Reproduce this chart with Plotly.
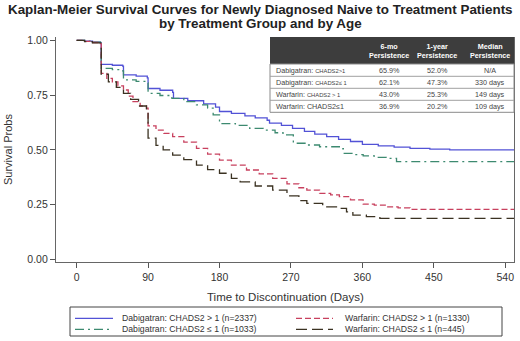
import plotly.graph_objects as go

# ---------------- data ----------------
days_dab_hi = [0, 10, 20, 30, 31, 45, 58, 59, 75, 89, 90, 105, 121, 122, 140, 160, 175, 180,
               195, 212, 225, 240, 243, 258, 272, 287, 300, 315, 330, 345, 360, 380, 400,
               420, 445, 470, 551]
surv_dab_hi = [1.0, 0.996, 0.992, 0.988, 0.89, 0.886, 0.882, 0.842, 0.836, 0.828, 0.78, 0.772,
               0.762, 0.735, 0.724, 0.71, 0.695, 0.675, 0.666, 0.655, 0.646, 0.635, 0.622,
               0.612, 0.598, 0.584, 0.572, 0.56, 0.548, 0.538, 0.525, 0.518, 0.512, 0.507,
               0.503, 0.5, 0.5]

days_dab_lo = [0, 10, 20, 30, 31, 45, 58, 59, 75, 89, 90, 105, 120, 135, 151, 165, 172, 180,
               200, 218, 235, 250, 260, 273, 290, 306, 331, 336, 350, 361, 375, 390, 403, 551]
surv_dab_lo = [1.0, 0.996, 0.992, 0.987, 0.872, 0.866, 0.86, 0.819, 0.812, 0.805, 0.758,
               0.748, 0.735, 0.72, 0.705, 0.69, 0.66, 0.62, 0.612, 0.598, 0.59, 0.578, 0.568,
               0.53, 0.522, 0.514, 0.505, 0.484, 0.478, 0.472, 0.466, 0.461, 0.446, 0.446]

days_war_hi = [0, 10, 20, 30, 31, 38, 45, 52, 59, 65, 71, 80, 88, 90, 100, 110, 121, 135,
               151, 165, 180, 195, 214, 230, 247, 265, 280, 290, 306, 320, 331, 345, 361,
               375, 390, 405, 420, 551]
surv_war_hi = [1.0, 0.995, 0.99, 0.985, 0.849, 0.826, 0.81, 0.792, 0.773, 0.745, 0.72, 0.70,
               0.69, 0.609, 0.59, 0.575, 0.56, 0.535, 0.507, 0.48, 0.453, 0.43, 0.408, 0.39,
               0.37, 0.345, 0.327, 0.316, 0.301, 0.294, 0.286, 0.272, 0.252, 0.248, 0.24,
               0.235, 0.228, 0.228]

days_war_lo = [0, 10, 20, 30, 31, 40, 50, 59, 68, 78, 88, 90, 100, 109, 121, 135, 151, 165,
               180, 195, 206, 225, 247, 265, 280, 290, 310, 331, 340, 348, 365, 382, 551]
surv_war_lo = [1.0, 0.994, 0.988, 0.982, 0.845, 0.81, 0.785, 0.758, 0.73, 0.70, 0.68, 0.553,
               0.52, 0.50, 0.476, 0.455, 0.43, 0.41, 0.393, 0.37, 0.354, 0.335, 0.316, 0.29,
               0.268, 0.256, 0.24, 0.233, 0.217, 0.202, 0.195, 0.187, 0.187]

x_ticks = [0, 90, 180, 270, 360, 450, 540]
y_ticks = [0.0, 0.25, 0.5, 0.75, 1.0]
y_tick_labels = ["0.00", "0.25", "0.50", "0.75", "1.00"]

series_names = ["Dabigatran: CHADS2 > 1 (n=2337)", "Dabigatran: CHADS2 \u2264 1 (n=1033)",
                "Warfarin: CHADS2 > 1 (n=1330)", "Warfarin: CHADS2 \u2264 1 (n=445)"]

table_header = ["", "6-mo<br>Persistence", "1-year<br>Persistence", "Median<br>Persistence"]
table_groups = ["Dabigatran: ", "Dabigatran: ", "Warfarin: ", "Warfarin: "]
table_sub = ["CHADS2>1", "CHADS2\u2264 1", "CHADS2 > 1", "CHADS2\u22641"]
table_6mo = ["65.9%", "62.1%", "43.0%", "36.9%"]
table_1yr = ["52.0%", "47.3%", "25.3%", "20.2%"]
table_median = ["N/A", "330 days", "149 days", "109 days"]

# ---------------- styles ----------------
colors = ["#5252d6", "#3d8a70", "#c8405e", "#3b3222"]
dashes = ["solid", "9px,4px,2px,4px", "6px,3px", "11px,5px"]

W, H = 520, 341
L, R, T, B = 56, 6, 37, 79
PW, PH = W - L - R, H - T - B

def px(x):
    return (x - L) / PW

def py(y):
    return (H - B - y) / PH

fig = go.Figure()
for d, s, c, ds, n in zip([days_dab_hi, days_dab_lo, days_war_hi, days_war_lo],
                          [surv_dab_hi, surv_dab_lo, surv_war_hi, surv_war_lo],
                          colors, dashes, series_names):
    fig.add_trace(go.Scatter(x=d, y=s, mode="lines", line=dict(color=c, width=1.3, dash=ds, shape="hv"),
                             name=n, showlegend=False, hoverinfo="skip"))

shapes = []
ann = []

# Title
ann.append(dict(text="<b>Kaplan-Meier Survival Curves for Newly Diagnosed Naive to Treatment Patients</b>",
                x=px(260), y=py(9.5), xref="paper", yref="paper", showarrow=False,
                font=dict(size=13.4, color="#222"), xanchor="center", yanchor="middle"))
ann.append(dict(text="<b>by Treatment Group and by Age</b>",
                x=px(260), y=py(23.5), xref="paper", yref="paper", showarrow=False,
                font=dict(size=13.4, color="#222"), xanchor="center", yanchor="middle"))

# Y axis title
ann.append(dict(text="Survival Probs", x=px(8), y=py(150), xref="paper", yref="paper",
                showarrow=False, textangle=-90, font=dict(size=11, color="#333"),
                xanchor="center", yanchor="middle"))
# X axis title
ann.append(dict(text="Time to Discontinuation (Days)", x=px(285), y=py(297), xref="paper", yref="paper",
                showarrow=False, font=dict(size=11.5, color="#333"), xanchor="center", yanchor="middle"))

# ---------------- table ----------------
tx0, tx1 = 270, 514
ty = [37, 64, 76.3, 88.3, 100.3, 112.3]
col_centers = [None, 389, 437, 490]
shapes.append(dict(type="rect", xref="paper", yref="paper", x0=px(tx0), x1=px(tx1), y0=py(ty[1]), y1=py(ty[0]),
                   fillcolor="#3d3d3d", line=dict(width=0), layer="above"))
shapes.append(dict(type="rect", xref="paper", yref="paper", x0=px(tx0), x1=px(tx1), y0=py(ty[-1]), y1=py(ty[1]),
                   fillcolor="white", line=dict(color="#8a8a8a", width=1), layer="above"))
for yy in ty[2:-1]:
    shapes.append(dict(type="line", xref="paper", yref="paper", x0=px(tx0), x1=px(tx1), y0=py(yy), y1=py(yy),
                       line=dict(color="#a0a0a0", width=1), layer="above"))
for j in range(1, 4):
    ann.append(dict(text="<b>" + table_header[j] + "</b>", x=px(col_centers[j]), y=py(50.5),
                    xref="paper", yref="paper", showarrow=False, align="center",
                    font=dict(size=7.2, color="white"), xanchor="center", yanchor="middle"))
for i in range(4):
    yc = py((ty[i + 1] + ty[i + 2]) / 2)
    sub_size = 7.2 if i == 3 else 5.8
    ann.append(dict(text=table_groups[i] + "<span style='font-size:%spx'>%s</span>" % (sub_size, table_sub[i]),
                    x=px(274), y=yc, xref="paper", yref="paper", showarrow=False,
                    font=dict(size=7.2, color="#444"), xanchor="left", yanchor="middle"))
    for j, vals in zip(range(1, 4), [table_6mo, table_1yr, table_median]):
        ann.append(dict(text=vals[i], x=px(col_centers[j]), y=yc, xref="paper", yref="paper",
                        showarrow=False, font=dict(size=7.2, color="#444"), xanchor="center", yanchor="middle"))

# ---------------- legend ----------------
lx0, lx1, ly0, ly1 = 70, 502, 307, 336
shapes.append(dict(type="rect", xref="paper", yref="paper", x0=px(lx0), x1=px(lx1), y0=py(ly1), y1=py(ly0),
                   line=dict(color="#444", width=1), fillcolor="rgba(0,0,0,0)"))
leg_pos = [(75, 113, 119.5, 318.3), (75, 113, 119.5, 329.3), (296, 333, 343, 318.3), (296, 333, 343, 329.3)]
for (sx0, sx1, txx, yy), c, ds, n in zip(leg_pos, colors, dashes, series_names):
    shapes.append(dict(type="line", xref="paper", yref="paper", x0=px(sx0), x1=px(sx1), y0=py(yy), y1=py(yy),
                       line=dict(color=c, width=1.3, dash=ds)))
    ann.append(dict(text=n, x=px(txx), y=py(yy), xref="paper", yref="paper", showarrow=False,
                    font=dict(size=8.7, color="#333"), xanchor="left", yanchor="middle"))

fig.update_layout(
    width=W, height=H, margin=dict(l=L, r=R, t=T, b=B),
    paper_bgcolor="white", plot_bgcolor="white",
    font=dict(family="Arial, Liberation Sans, sans-serif", color="#333"),
    shapes=shapes, annotations=ann,
    xaxis=dict(range=[-26, 551], tickvals=x_ticks, ticks="outside", ticklen=5, tickcolor="#555",
               showgrid=False, zeroline=False, showline=True, linecolor="#666", linewidth=1.3,
               tickfont=dict(size=10.5, color="#333")),
    yaxis=dict(range=[-0.012, 1.015], tickvals=y_ticks, ticktext=y_tick_labels, ticks="outside",
               ticklen=5, tickcolor="#555", showgrid=False, zeroline=False, showline=True,
               linecolor="#666", linewidth=1.3, mirror=True, tickfont=dict(size=10.5, color="#333")),
)

fig.write_html("out.html", config={"displayModeBar": False},
               post_script="document.body.style.margin='0';document.body.style.overflow='hidden';")
